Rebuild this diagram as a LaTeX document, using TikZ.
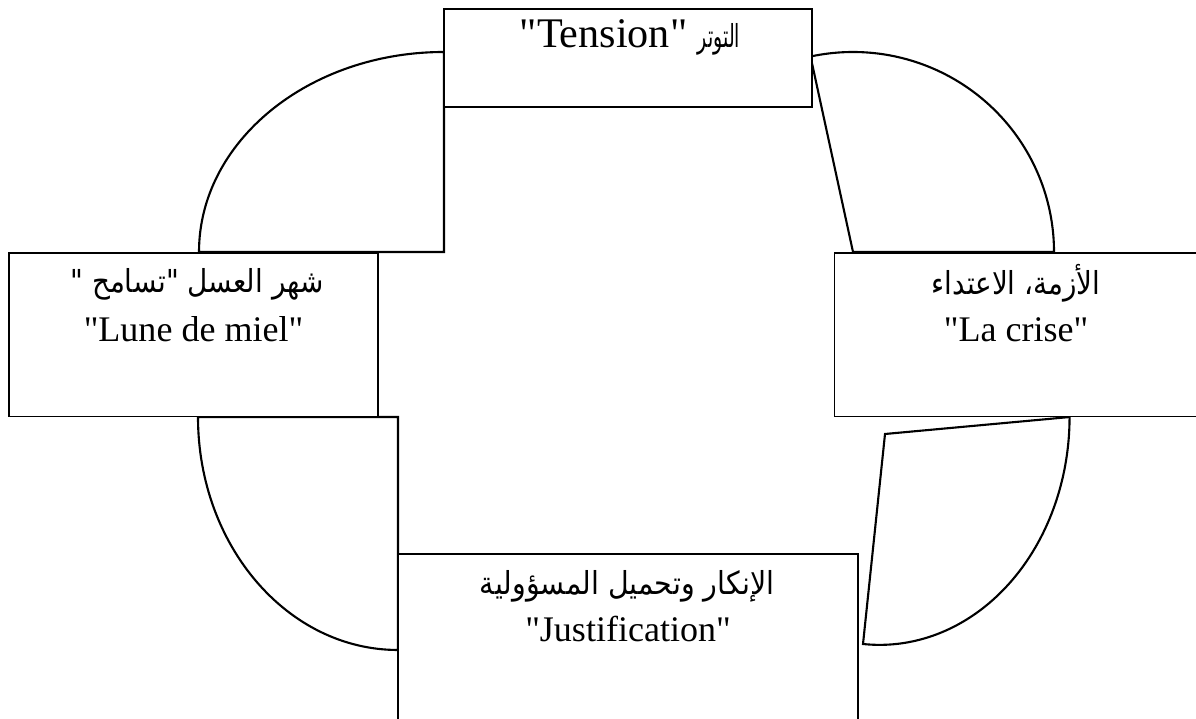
\documentclass[tikz,border=0pt]{standalone}
\usepackage{fontspec}
\usepackage{graphicx}
\setmainfont{Liberation Serif}
\newfontfamily\latinserif{Liberation Serif}
\newfontfamily\arabicfont[Script=Arabic]{DejaVu Sans}
\TeXXeTstate=1
\newcommand\artext[2]{\scalebox{#1}[1]{\arabicfont\fontsize{18}{20}\selectfont #2}}
\begin{document}
\begin{tikzpicture}[x=0.02cm,y=0.02cm,
  boxstyle/.style={draw=black, line width=1pt, fill=white, inner sep=0pt, rectangle},
  piestyle/.style={draw=black, line width=1.2pt, line join=miter},
  lat/.style={inner sep=0pt, anchor=base, font=\latinserif\fontsize{20.5}{24}\selectfont},
  ara/.style={inner sep=0pt, anchor=base}]
\useasboundingbox (0,0) rectangle (1196,719);
% quarter pies between the stages
\draw[piestyle] (444,467) -- (444,667) arc[start angle=90,end angle=180,x radius=245,y radius=200] -- cycle;
\draw[piestyle] (853,467) -- (1054,467) arc[start angle=0,end angle=102.2,x radius=201,y radius=200] -- cycle;
\draw[piestyle] (398,302) -- (198,302) arc[start angle=180,end angle=270,x radius=200,y radius=233] -- cycle;
\draw[piestyle] (1070,302) -- (885,285) -- (863,75) arc[start angle=-95,end angle=0,x radius=190,y radius=228];
% stage boxes
\node[boxstyle, minimum width=7.36cm, minimum height=1.96cm] (tension) at (628,661) {};
\node[boxstyle, minimum width=7.38cm, minimum height=3.27cm] (lune) at (193.5,384.25) {};
\node[boxstyle, minimum width=7.5cm, minimum height=3.27cm] (crise) at (1022,384.25) {};
\node[boxstyle, minimum width=9.2cm, minimum height=3.7cm] (justif) at (628,72.5) {};
% texts
\node[lat, font=\latinserif\fontsize{24}{28}\selectfont] (tensiontxt) at (630,671) {"Tension" \artext{0.6}{\beginR التوتر\endR}};
\node[ara] (lunear) at (197,426) {\artext{0.88}{\beginR شهر العسل "تسامح "\endR}};
\node[lat] (lunefr) at (193.5,377) {"Lune de miel"};
\node[ara] (crisear) at (1016,424) {\artext{0.88}{\beginR الأزمة، الاعتداء\endR}};
\node[lat] (crisefr) at (1016,377) {"La crise"};
\node[ara] (justifar) at (627,124) {\artext{0.9}{\beginR الإنكار وتحميل المسؤولية\endR}};
\node[lat] (justiffr) at (628,77) {"Justification"};
\end{tikzpicture}
\end{document}
